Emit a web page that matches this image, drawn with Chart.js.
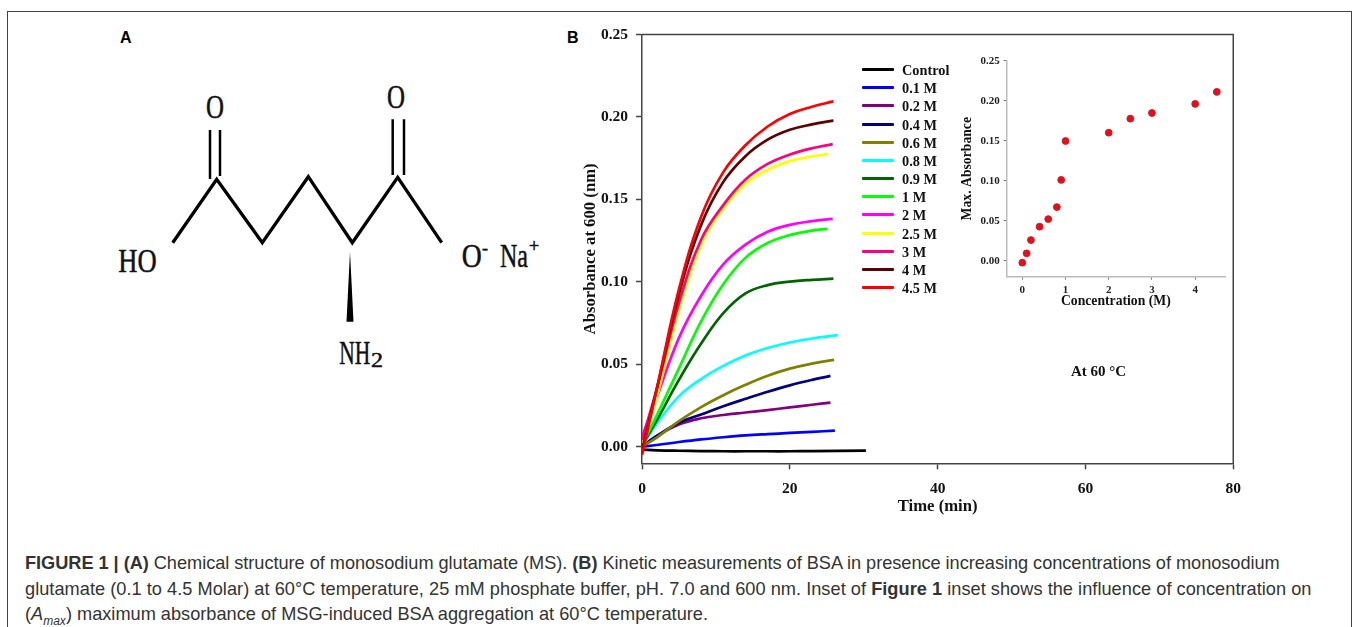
<!DOCTYPE html>
<html>
<head>
<meta charset="utf-8">
<title>Figure 1</title>
<script src="https://cdn.jsdelivr.net/npm/chart.js@4/dist/chart.umd.min.js"></script>
<style>
  html, body { margin: 0; padding: 0; background: #fff; overflow: hidden; }
  #page { position: relative; width: 1357px; height: 627px; overflow: hidden; }
  #frame { position: absolute; left: 7px; top: 11px; width: 1345px; height: 640px; border: 1px solid #444; box-sizing: border-box; }
  canvas { position: absolute; }
  #kinetics { left: 581px; top: 14px; }
  #inset { left: 959px; top: 45px; }
  #molecule { position: absolute; left: 0; top: 0; }
  #molecule text { font-family: "Liberation Serif", serif; fill: #111; stroke: #111; stroke-width: 0.5; }
  .panel { position: absolute; top: 29px; font: bold 16px "Liberation Sans", sans-serif; color: #000; }
  .serif { position: absolute; font-family: "Liberation Serif", serif; font-weight: bold; color: #111; white-space: nowrap; }
  #legend .row { position: absolute; left: 862px; height: 18px; width: 110px; }
  #legend i { position: absolute; left: 0; top: 8px; width: 32px; height: 3px; border-radius: 1px; }
  #legend span { position: absolute; left: 40px; top: 1px; font: bold 14.3px/18px "Liberation Serif", serif; color: #111; white-space: nowrap; }
  #caption div { position: absolute; left: 25px; font: 18.2px/20px "Liberation Sans", sans-serif; color: #333; white-space: nowrap; }
</style>
</head>
<body>
<div id="page">
  <div id="frame"></div>
  <div class="panel" style="left:120px">A</div>
  <div class="panel" style="left:567px">B</div>

  <svg id="molecule" width="560" height="400">
    <polyline points="172.7,242.7 216.7,179.3 262.3,242.7 308.3,176.7 352.3,242.7 397.7,177.3 441.7,242.7" fill="none" stroke="#000" stroke-width="3.3"/>
    <path d="M210 130V179M220 130V176M392.7 119.3V175M404 119.3V175" stroke="#000" stroke-width="2.5"/>
    <path d="M350 251.7L346.5 321.7H353.5Z" fill="#000"/>
    <text x="206" y="117.7" font-size="33" textLength="18" lengthAdjust="spacingAndGlyphs">O</text>
    <text x="387" y="107.7" font-size="33" textLength="18" lengthAdjust="spacingAndGlyphs">O</text>
    <text x="118.3" y="272.3" font-size="33" textLength="38.4" lengthAdjust="spacingAndGlyphs">HO</text>
    <text x="461.7" y="266.7" font-size="33" textLength="20" lengthAdjust="spacingAndGlyphs">O</text>
    <text x="482" y="254" font-size="18">-</text>
    <text x="500" y="266.7" font-size="33" textLength="28" lengthAdjust="spacingAndGlyphs">Na</text>
    <text x="529" y="252" font-size="18">+</text>
    <text x="339.3" y="364.3" font-size="33" textLength="31" lengthAdjust="spacingAndGlyphs">NH</text>
    <text x="371" y="367" font-size="20" textLength="12" lengthAdjust="spacingAndGlyphs">2</text>
  </svg>

  <canvas id="kinetics" width="670" height="503"></canvas>
  <canvas id="inset" width="271" height="265"></canvas>
  <div id="legend"></div>
  <div class="serif" style="left:1071px;top:363px;font-size:15px">At 60 °C</div>

  <div id="caption">
    <div style="top:553px;letter-spacing:-0.04px"><b>FIGURE 1 | (A)</b> Chemical structure of monosodium glutamate (MS). <b>(B)</b> Kinetic measurements of BSA in presence increasing concentrations of monosodium</div>
    <div style="top:579px;letter-spacing:0.03px">glutamate (0.1 to 4.5 Molar) at 60°C temperature, 25 mM phosphate buffer, pH. 7.0 and 600 nm. Inset of <b>Figure 1</b> inset shows the influence of concentration on</div>
    <div style="top:604px">(<i>A<sub style="font-size:12px;line-height:0">max</sub></i>) maximum absorbance of MSG-induced BSA aggregation at 60°C temperature.</div>
  </div>
</div>

<script>
const seriesNames = ["Control", "0.1 M", "0.2 M", "0.4 M", "0.6 M", "0.8 M", "0.9 M", "1 M", "2 M", "2.5 M", "3 M", "4 M", "4.5 M"];
const seriesColors = ["#000000", "#0000ff", "#800080", "#000080", "#808000", "#00ffff", "#006400", "#00ff00", "#ff00ff", "#ffff00", "#ff0080", "#5c0000", "#ff0000"];

// last time differs per curve
const sharedTimes = [0, 2, 5, 8, 11, 14, 17, 20, 23];
const endTimes = [30.3, 26.1, 25.5, 25.5, 26, 26.5, 25.9, 25.1, 25.8, 25.2, 25.8, 25.9, 25.9];

const control = [-0.0018, -0.0022, -0.0025, -0.0027, -0.0028, -0.0028, -0.0028, -0.0028, -0.0027, -0.0024];
const m01 = [0, 0.001, 0.0028, 0.0044, 0.0057, 0.0068, 0.0076, 0.0083, 0.009, 0.0097];
const m02 = [0, 0.0065, 0.0135, 0.0172, 0.0192, 0.0207, 0.0222, 0.0238, 0.0254, 0.0267];
const m04 = [0, 0.0065, 0.0145, 0.0195, 0.0245, 0.029, 0.0333, 0.0372, 0.0405, 0.0429];
const m06 = [0, 0.0055, 0.0155, 0.024, 0.0312, 0.0375, 0.043, 0.0473, 0.0504, 0.0526];
const m08 = [0, 0.014, 0.0305, 0.041, 0.049, 0.0553, 0.0598, 0.0632, 0.0656, 0.0676];
const m09 = [0.001, 0.016, 0.0405, 0.0625, 0.081, 0.093, 0.098, 0.1001, 0.1012, 0.1019];
const m1 = [0.001, 0.019, 0.0475, 0.076, 0.0985, 0.1145, 0.1235, 0.1283, 0.131, 0.1321];
const m2 = [0.006, 0.03, 0.066, 0.0915, 0.1105, 0.1225, 0.1303, 0.1345, 0.1368, 0.1382];
const m25 = [0, 0.03, 0.083, 0.1225, 0.1445, 0.1595, 0.168, 0.1732, 0.176, 0.1774];
const m3 = [0.004, 0.035, 0.087, 0.1255, 0.1465, 0.162, 0.1715, 0.1772, 0.181, 0.1835];
const m4 = [-0.002, 0.035, 0.0925, 0.1345, 0.1606, 0.1762, 0.1862, 0.1922, 0.1955, 0.1978];
const m45 = [-0.005, 0.035, 0.0955, 0.1395, 0.1665, 0.1828, 0.1942, 0.2018, 0.2062, 0.2094];
const allSeries = [control, m01, m02, m04, m06, m08, m09, m1, m2, m25, m3, m4, m45];

const insetConcentration = [0, 0.1, 0.2, 0.4, 0.6, 0.8, 0.9, 1, 2, 2.5, 3, 4, 4.5];
const insetMaxAbsorbance = [-0.0025, 0.0092, 0.0258, 0.0425, 0.052, 0.067, 0.101, 0.1496, 0.16, 0.1775, 0.1846, 0.196, 0.211];

const serif = "'Liberation Serif', serif";
const axisColor = "#444";

function toPoints(values, endTime) {
  return values.map((v, i) => ({ x: i < sharedTimes.length ? sharedTimes[i] : endTime, y: v }));
}

// top and right sides of the plot box
const boxSides = {
  id: "boxSides",
  afterDraw(chart) {
    const { ctx, chartArea } = chart;
    ctx.save();
    ctx.strokeStyle = axisColor;
    ctx.lineWidth = 1.5;
    ctx.beginPath();
    ctx.moveTo(chartArea.left, chartArea.top);
    ctx.lineTo(chartArea.right, chartArea.top);
    ctx.lineTo(chartArea.right, chartArea.bottom);
    ctx.stroke();
    ctx.restore();
  }
};

new Chart(document.getElementById("kinetics"), {
  type: "scatter",
  data: {
    datasets: allSeries.map((values, i) => ({
      label: seriesNames[i],
      data: toPoints(values, endTimes[i]),
      showLine: true,
      borderColor: seriesColors[i],
      borderWidth: 2.7,
      pointRadius: 0,
      tension: 0.4,
      order: allSeries.length - i
    }))
  },
  options: {
    responsive: false,
    animation: false,
    layout: { padding: { top: 20.5, right: 15 } },
    plugins: { legend: { display: false }, tooltip: { enabled: false } },
    scales: {
      x: {
        type: "linear",
        min: 0,
        max: 80,
        afterFit: scale => { scale.height = 53.7; },
        border: { color: axisColor, width: 1.5 },
        grid: { drawOnChartArea: false, tickLength: 6, tickColor: axisColor, tickWidth: 1.5 },
        ticks: { stepSize: 20, padding: 10, maxRotation: 0, color: "#111", font: { family: serif, weight: "bold", size: 15.5 } },
        title: { display: true, text: "Time (min)", padding: 0, color: "#111", font: { family: serif, weight: "bold", size: 16.7 } }
      },
      y: {
        min: -0.0101,
        max: 0.25,
        afterFit: scale => { scale.width = 61; },
        border: { color: axisColor, width: 1.5 },
        grid: { drawOnChartArea: false, tickLength: 6, tickColor: axisColor, tickWidth: 1.5 },
        ticks: {
          stepSize: 0.05,
          includeBounds: false,
          padding: 8,
          color: "#111",
          font: { family: serif, weight: "bold", size: 15.5 },
          callback: v => v.toFixed(2)
        },
        title: { display: true, text: "Absorbance at 600 (nm)", padding: 0, color: "#111", font: { family: serif, weight: "bold", size: 16.7 } }
      }
    }
  },
  plugins: [boxSides]
});

new Chart(document.getElementById("inset"), {
  type: "scatter",
  data: {
    datasets: [{
      label: "Max. Absorbance",
      data: insetConcentration.map((c, i) => ({ x: c, y: insetMaxAbsorbance[i] })),
      backgroundColor: "#e3101c",
      borderColor: "#e3101c",
      pointRadius: 3.4
    }]
  },
  options: {
    responsive: false,
    animation: false,
    layout: { padding: { top: 15.7, right: 5 } },
    plugins: { legend: { display: false }, tooltip: { enabled: false } },
    scales: {
      x: {
        type: "linear",
        min: -0.361,
        max: 4.69,
        afterFit: scale => { scale.height = 33.3; },
        border: { color: "#bbb", width: 1.5 },
        grid: { drawOnChartArea: false, tickLength: 3, tickColor: "#777", tickWidth: 1 },
        ticks: { stepSize: 1, includeBounds: false, padding: 4, maxRotation: 0, color: "#222", font: { family: serif, weight: "bold", size: 11 } },
        title: { display: true, text: "Concentration (M)", padding: 0, color: "#111", font: { family: serif, weight: "bold", size: 13.7 } }
      },
      y: {
        min: -0.02,
        max: 0.25,
        afterFit: scale => { scale.width = 47.7; },
        border: { color: "#bbb", width: 1.5 },
        grid: { drawOnChartArea: false, tickLength: 3, tickColor: "#777", tickWidth: 1 },
        ticks: {
          stepSize: 0.05,
          includeBounds: false,
          padding: 4,
          color: "#222",
          font: { family: serif, weight: "bold", size: 11 },
          callback: v => v.toFixed(2)
        },
        title: { display: true, text: "Max. Absorbance", padding: 0, color: "#111", font: { family: serif, weight: "bold", size: 13.7 } }
      }
    }
  }
});

const legend = document.getElementById("legend");
seriesNames.forEach((name, i) => {
  const row = document.createElement("div");
  row.className = "row";
  row.style.top = (60 + i * 18.17) + "px";
  row.innerHTML = `<i style="background:${seriesColors[i]}"></i><span>${name}</span>`;
  legend.appendChild(row);
});
</script>
</body>
</html>
